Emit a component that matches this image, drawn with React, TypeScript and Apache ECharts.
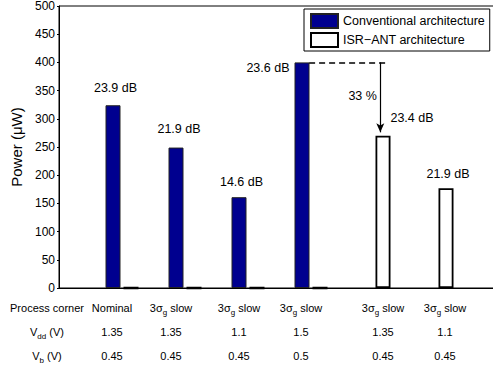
import React, { useEffect, useRef } from 'react';
import * as echarts from 'echarts';

// Group positions along the x axis
const groupPositions = [1, 2, 3, 4, 5, 6];
// Power in µW for each architecture (null = no bar)
const conventionalPower: (number | null)[] = [324, 249, 161, 400, null, null];
const isrAntPower: number[] = [0, 0, 0, 0, 270, 177];
// SNR annotation above each drawn bar
const snrLabels = ['23.9 dB', '21.9 dB', '14.6 dB', '23.6 dB', '23.4 dB', '21.9 dB'];
// Operating conditions table under the axis
const processCorners = ['Nominal', '3σ{s|g} slow', '3σ{s|g} slow', '3σ{s|g} slow', '3σ{s|g} slow', '3σ{s|g} slow'];
const vddValues = ['1.35', '1.35', '1.1', '1.5', '1.35', '1.1'];
const vbValues = ['0.45', '0.45', '0.45', '0.5', '0.45', '0.45'];
const rowHeaders = ['Process corner', 'V{s|dd} (V)', 'V{s|b} (V)'];
// Power reduction annotation: from the 3σ slow conventional case to ISR-ANT
const reductionFrom = 400;
const reductionTo = 270;
const reductionText = '33 %';

const X_MIN = 0;
const X_MAX = 7;
const Y_MIN = 0;
const Y_MAX = 500;
const Y_STEP = 50;

const BLUE = '#00008f';
const FONT = '"Liberation Sans", Arial, sans-serif';

// Label placement relative to each bar's top-left corner
const labelPlacement: { pos: [number, number]; align: string }[] = [
  { pos: [10, -17], align: 'center' },
  { pos: [10.5, -18.5], align: 'center' },
  { pos: [10, -15], align: 'center' },
  { pos: [-5, 6], align: 'right' },
  { pos: [36.5, -17.5], align: 'center' },
  { pos: [9.5, -14], align: 'center' },
];

// Table column centres and row positions (page pixels)
const colX = [112, 171, 239, 301, 383, 445];
const headerX = 47;
const rowY = [308, 332, 356];

export default function App() {
  const ref = useRef<HTMLDivElement>(null);

  useEffect(() => {
    if (!ref.current) return;
    const chart = echarts.init(ref.current, null, { renderer: 'svg' });

    const mkLabel = (i: number) => ({
      show: true,
      position: labelPlacement[i].pos,
      align: labelPlacement[i].align,
      verticalAlign: 'middle',
      formatter: snrLabels[i],
      color: '#000',
      fontSize: 12.5,
      fontFamily: FONT,
    });

    const convData = groupPositions.map((x, i) =>
      conventionalPower[i] == null
        ? [x, '-']
        : { value: [x, conventionalPower[i]], label: mkLabel(i) }
    );
    // Zero-height bars show up as a thick black stroke on the baseline
    const isrData = groupPositions.map((x, i) =>
      isrAntPower[i] > 0
        ? { value: [x, isrAntPower[i]], label: mkLabel(i) }
        : { value: [x, isrAntPower[i]], itemStyle: { borderWidth: 2.5 } }
    );

    const sub = { fontSize: 8, padding: [9, 0, 0, 0], fontFamily: FONT, fill: '#000' };
    const tableText = (text: string, x: number, y: number) => ({
      type: 'text',
      x,
      y,
      silent: true,
      style: {
        text,
        fontSize: 11,
        fontFamily: FONT,
        fill: '#000',
        align: 'center',
        verticalAlign: 'middle',
        rich: { s: sub },
      },
    });

    const graphics: any[] = [];
    rowHeaders.forEach((h, r) => graphics.push(tableText(h, headerX, rowY[r])));
    processCorners.forEach((t, i) => graphics.push(tableText(t, colX[i], rowY[0])));
    vddValues.forEach((t, i) => graphics.push(tableText(t, colX[i], rowY[1])));
    vbValues.forEach((t, i) => graphics.push(tableText(t, colX[i], rowY[2])));

    chart.setOption({
      animation: false,
      textStyle: { fontFamily: FONT, color: '#000' },
      grid: {
        left: 59,
        top: 4,
        bottom: 84,
        right: 0,
        show: true,
        borderColor: '#000',
        borderWidth: 1,
        backgroundColor: 'transparent',
      },
      legend: {
        orient: 'vertical',
        left: 304,
        top: 9,
        padding: [4, 5, 3, 6],
        itemGap: 3,
        itemWidth: 27,
        itemHeight: 14,
        icon: 'rect',
        borderColor: '#000',
        borderWidth: 1,
        backgroundColor: '#fff',
        textStyle: { fontSize: 12.5, lineHeight: 14, color: '#000', fontFamily: FONT },
        data: ['Conventional architecture', 'ISR\u2212ANT architecture'],
      },
      xAxis: {
        type: 'value',
        min: X_MIN,
        max: X_MAX,
        interval: 1,
        axisLine: { show: true, lineStyle: { color: '#000', width: 1 } },
        axisTick: { show: false },
        axisLabel: { show: false },
        splitLine: { show: false },
      },
      yAxis: {
        type: 'value',
        min: Y_MIN,
        max: Y_MAX,
        interval: Y_STEP,
        name: 'Power (\u03bcW)',
        nameLocation: 'middle',
        nameGap: 30,
        nameTextStyle: { fontSize: 15, color: '#000', fontFamily: FONT },
        axisLine: { show: true, lineStyle: { color: '#000', width: 1 } },
        axisTick: { show: true, length: 2, lineStyle: { color: '#000' } },
        axisLabel: { fontSize: 12, color: '#000', margin: 4, fontFamily: FONT },
        splitLine: { show: false },
      },
      series: [
        {
          name: 'Conventional architecture',
          type: 'bar',
          barWidth: 15,
          barGap: '20%',
          itemStyle: { color: BLUE, borderColor: '#222', borderWidth: 1 },
          data: convData,
        },
        {
          name: 'ISR\u2212ANT architecture',
          type: 'bar',
          barWidth: 15,
          barGap: '20%',
          itemStyle: { color: '#fff', borderColor: '#000', borderWidth: 1.8 },
          data: isrData,
        },
        {
          // Annotation layer: dashed reference level, reduction arrow and percentage
          name: 'reduction',
          type: 'line',
          data: [],
          silent: true,
          markLine: {
            silent: true,
            animation: false,
            label: { show: false },
            data: [
              [
                { coord: [3.97, reductionFrom], symbol: 'none', lineStyle: { type: [6, 4], color: '#000', width: 1.5 } },
                { coord: [5.22, reductionFrom], symbol: 'none' },
              ],
              [
                { coord: [5.1, reductionFrom], symbol: 'none', lineStyle: { type: 'solid', color: '#000', width: 1.2 } },
                { coord: [5.1, reductionTo + 6], symbol: 'arrow', symbolSize: [6, 9] },
              ],
            ],
          },
          markPoint: {
            silent: true,
            symbol: 'circle',
            symbolSize: 0,
            label: {
              show: true,
              position: 'inside',
              formatter: reductionText,
              color: '#000',
              fontSize: 12.5,
              fontFamily: FONT,
            },
            data: [{ coord: [4.82, 340] }],
          },
        },
      ],
      graphic: graphics,
    });

    return () => chart.dispose();
  }, []);

  // The plot frame runs past the right edge of the visible area
  return (
    <div style={{ position: 'absolute', left: 0, top: 0, width: 493, height: 372, overflow: 'hidden', background: '#fff' }}>
      <div ref={ref} style={{ width: 500, height: 372 }} />
    </div>
  );
}
